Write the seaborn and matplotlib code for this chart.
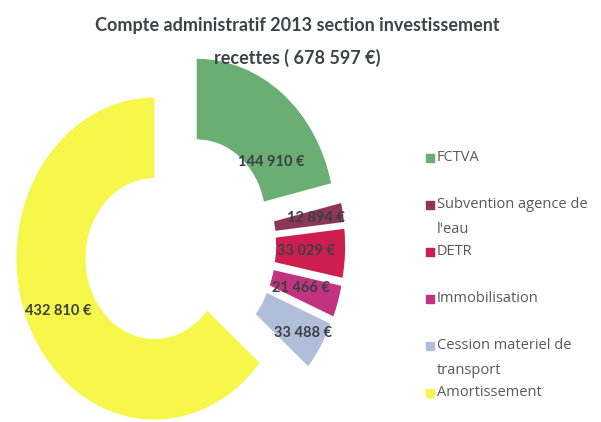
import matplotlib
matplotlib.use("Agg")
import matplotlib.pyplot as plt
import numpy as np
import seaborn as sns
from matplotlib.patches import Rectangle

# data
categories = ["FCTVA", "Subvention agence de l'eau", "DETR", "Immobilisation",
              "Cession materiel de transport", "Amortissement"]
legend_labels = ["FCTVA", "Subvention agence de\nl'eau", "DETR", "Immobilisation",
                 "Cession materiel de\ntransport", "Amortissement"]
values = [144910, 12894, 33029, 21466, 33488, 432810]
total = 678597
colors = ["#6aae74", "#8f3658", "#cd1f4f", "#c1337f", "#b1bedb", "#f7f64a"]

# label placement inside each ring segment
label_r = [0.65, 0.80, 0.72, 0.72, 0.85, 0.77]
label_dtheta = [-18, 0, 0, 0, 0, 0]


def fmt_eur(v):
    return f"{v:,}".replace(",", " ") + " €"


sns.set_theme(style="white")
plt.rcParams["font.family"] = ["Lato", "DejaVu Sans"]

fig = plt.figure(figsize=(6.01, 4.22), dpi=100)
ax = fig.add_axes([0, 0, 1, 1])

wedges, _ = ax.pie(
    values,
    colors=colors,
    startangle=90,
    counterclock=False,
    explode=[0.2] * len(values),
    wedgeprops=dict(width=0.5, linewidth=0),
)
ax.set_aspect("auto")
ax.set_xlim(-1.301, 3.054)
ax.set_ylim(-1.099, 1.522)
ax.axis("off")

for w, v, r, dt in zip(wedges, values, label_r, label_dtheta):
    theta = np.deg2rad((w.theta1 + w.theta2) / 2 + dt)
    cx, cy = w.center
    ax.text(cx + r * np.cos(theta), cy + r * np.sin(theta), fmt_eur(v),
            ha="center", va="center", fontsize=10.5, fontweight="bold",
            color="#3a3f44")

fig.text(0.494, 0.96,
         "Compte administratif 2013 section investissement\n"
         f"recettes ( {fmt_eur(total)})",
         ha="center", va="top", fontsize=13, fontweight="bold",
         color="#3d4247", linespacing=2.0)

# legend, drawn entry by entry like the spreadsheet layout
W, H = 601, 422
y0, step = 158, 47
for i, (lab, c) in enumerate(zip(legend_labels, colors)):
    y = y0 + i * step
    fig.patches.append(Rectangle((426 / W, 1 - (y + 4) / H), 8 / W, 8 / H,
                                 transform=fig.transFigure, color=c,
                                 figure=fig))
    fig.text(437 / W, 1 - (y - 8) / H, lab, ha="left", va="top",
             fontsize=10.5, color="#595959", linespacing=1.9,
             family=["Open Sans", "DejaVu Sans"])

fig.savefig("out.png", dpi=100)
plt.close(fig)
